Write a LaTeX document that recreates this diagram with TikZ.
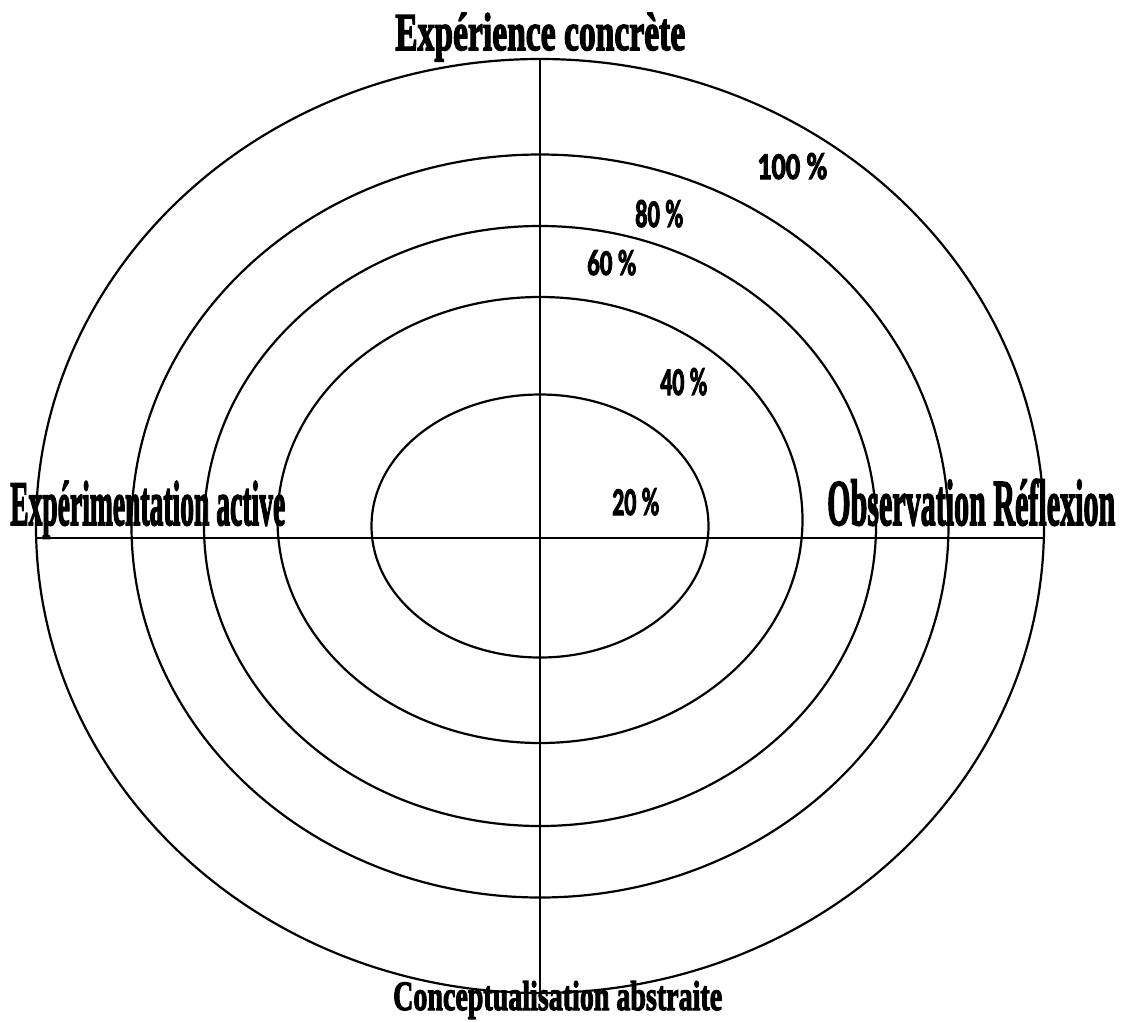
\documentclass[tikz,border=0pt]{standalone}
\usepackage{fontspec}
\setmainfont{Liberation Serif}
\newfontfamily\heavyserif[BoldFeatures={FakeBold=3}]{Liberation Serif}
\newfontfamily\pctfont[BoldFeatures={FakeBold=3}]{Carlito}
\begin{document}
\begin{tikzpicture}[x=1pt,y=-1pt,
  ring/.style={draw=black,line width=2.2pt},
  axis/.style={draw=black,line width=2.2pt},
  lab/.style={inner sep=0pt,anchor=base west},
]
\useasboundingbox (0,0) rectangle (1122,1021);
\coordinate (c) at (540,526);
\coordinate (c4) at (540,520);
\coordinate (top) at (540,59);
\coordinate (bot) at (540,993);
\coordinate (lft) at (35,538);
\coordinate (rgt) at (1043,538);
\draw[ring] (c) ellipse [x radius=168.5, y radius=131.5];
\draw[ring] (c4) ellipse [x radius=262.5, y radius=223];
\draw[ring] (c) ellipse [x radius=336, y radius=300];
\draw[ring] (c) ellipse [x radius=408.5, y radius=371.5];
\draw[ring] (c) ellipse [x radius=504, y radius=467];
\draw[axis] (top) -- (bot);
\draw[axis] (lft) -- (rgt);
\node[lab] (ec) at (395,50) {\resizebox{290pt}{37pt}{\heavyserif\bfseries Expérience concrète}};
\node[lab] (ea) at (10,525) {\resizebox{275pt}{44pt}{\heavyserif\bfseries Expérimentation active}};
\node[lab] (or) at (827,525) {\resizebox{288pt}{46pt}{\heavyserif\bfseries Observation Réflexion}};
\node[lab] (ca) at (393,1010) {\resizebox{329pt}{29pt}{\heavyserif\bfseries Conceptualisation abstraite}};
\node[lab] (p100) at (757,179) {\resizebox{70pt}{26pt}{\pctfont\bfseries 100 \%}};
\node[lab] (p80) at (635,227) {\resizebox{48pt}{27pt}{\pctfont\bfseries 80 \%}};
\node[lab] (p60) at (587,275) {\resizebox{49pt}{25pt}{\pctfont\bfseries 60 \%}};
\node[lab] (p40) at (660,395) {\resizebox{47pt}{27pt}{\pctfont\bfseries 40 \%}};
\node[lab] (p20) at (612,515) {\resizebox{47pt}{27pt}{\pctfont\bfseries 20 \%}};
\end{tikzpicture}
\end{document}
